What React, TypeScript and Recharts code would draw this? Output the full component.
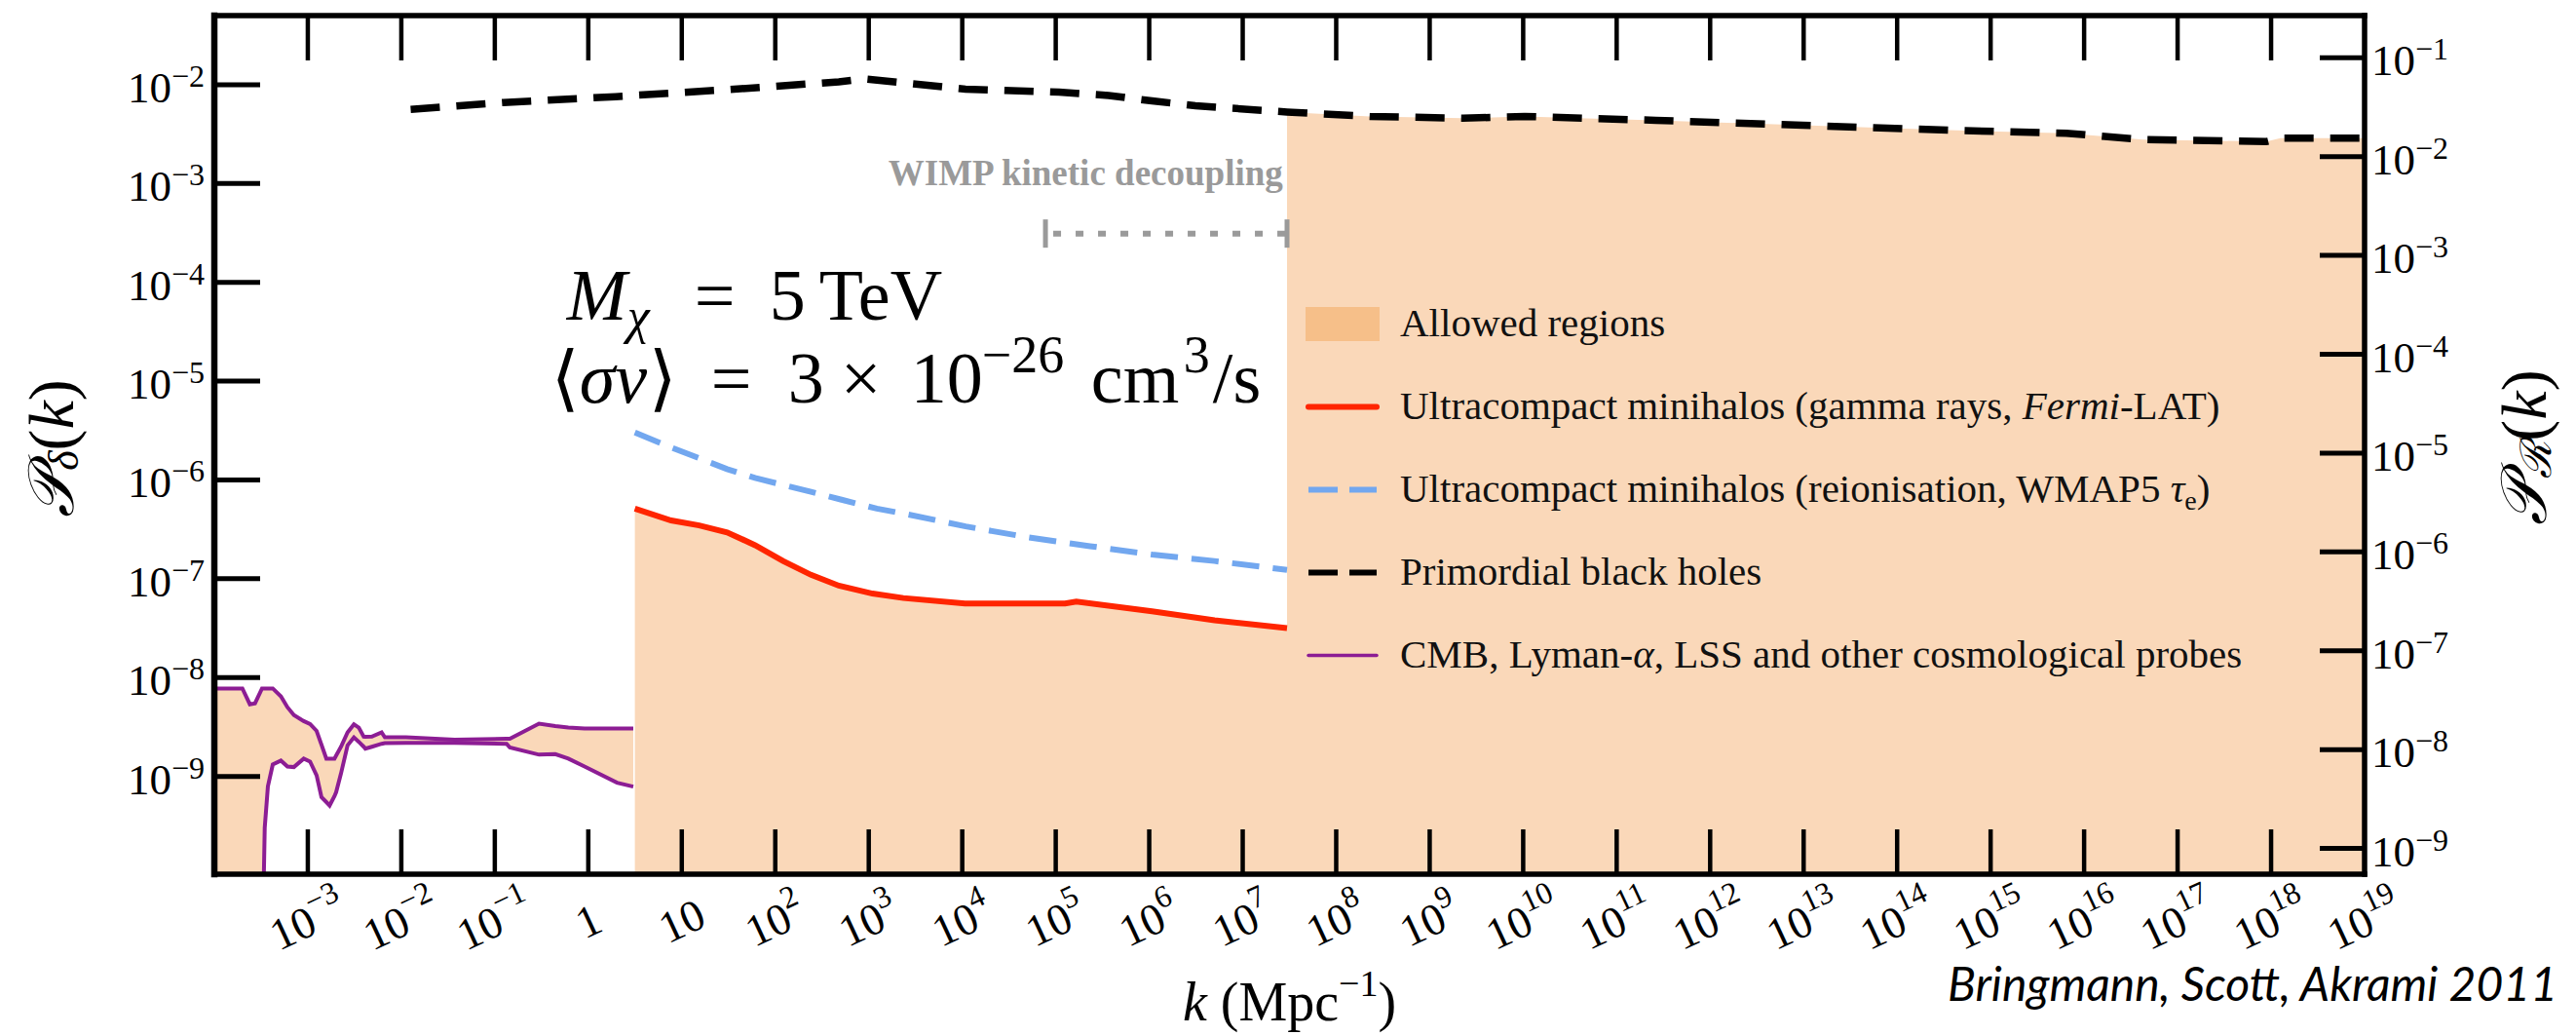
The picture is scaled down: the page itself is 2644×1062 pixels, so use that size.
import React from 'react';
import { ComposedChart, XAxis, YAxis, Line, Area, ReferenceDot, Legend } from 'recharts';

const W = 2644;
const H = 1062;
const SERIF = "'Liberation Serif', 'DejaVu Serif', serif";

// everything below as log10(k / Mpc^-1) and log10(P_delta)
// CMB / Lyman-alpha / LSS band (upper and lower purple curves); -11 = below the plot floor
const cmbLogK = [-4.0, -3.7, -3.62, -3.565, -3.49, -3.461, -3.427, -3.375, -3.288, -3.218, -3.149, -3.044, -2.976, -2.906, -2.854, -2.802, -2.767, -2.715, -2.697, -2.645, -2.575, -2.507, -2.455, -2.402, -2.385, -2.315, -2.211, -2.176, -1.95, -1.429, -0.874, -0.839, -0.527, -0.353, -0.214, -0.04, 0.307, 0.481];
const cmbUpper = [-8.11, -8.11, -8.27, -8.26, -8.11, -8.11, -8.11, -8.11, -8.19, -8.3, -8.38, -8.44, -8.47, -8.54, -8.68, -8.82, -8.82, -8.82, -8.79, -8.7, -8.555, -8.473, -8.506, -8.598, -8.6, -8.598, -8.555, -8.605, -8.605, -8.63, -8.62, -8.62, -8.466, -8.49, -8.506, -8.516, -8.516, -8.516];
const cmbLower = [-11, -11, -11, -11, -11, -9.52, -9.1, -8.88, -8.84, -8.9, -8.906, -8.82, -8.85, -8.99, -9.21, -9.26, -9.295, -9.2, -9.16, -8.97, -8.686, -8.605, -8.65, -8.7, -8.719, -8.7, -8.67, -8.664, -8.66, -8.66, -8.67, -8.708, -8.78, -8.775, -8.82, -8.9, -9.064, -9.103];

// ultracompact minihalos, gamma rays (Fermi-LAT)
const gammaLogK = [0.498, 0.886, 1.186, 1.485, 1.784, 2.083, 2.382, 2.68, 3.04, 3.37, 4.03, 5.1, 5.22, 6.03, 6.7, 7.474];
const gammaLogP = [-6.29, -6.41, -6.46, -6.53, -6.66, -6.82, -6.96, -7.07, -7.15, -7.195, -7.25, -7.25, -7.23, -7.33, -7.42, -7.5];

// ultracompact minihalos, reionisation (WMAP5 tau_e)
const reionLogK = [0.498, 0.886, 1.186, 1.485, 1.784, 2.083, 2.382, 2.709, 3.087, 3.374, 4.037, 4.7, 5.367, 6.03, 6.696, 7.474];
const reionLogP = [-5.52, -5.67, -5.78, -5.89, -5.98, -6.05, -6.12, -6.2, -6.29, -6.34, -6.47, -6.58, -6.67, -6.755, -6.82, -6.91];

// primordial black holes
const pbhLogK = [-1.9, -0.91, 0.29, 1.48, 2.68, 2.95, 4.035, 5.035, 5.566, 6.03, 6.494, 7.474, 8.36, 9.355, 10.016, 10.68, 11.42, 12.99, 14.56, 15.81, 16.63, 17.95, 18.1, 19.0];
const pbhLogP = [-2.25, -2.18, -2.12, -2.05, -1.97, -1.94, -2.044, -2.075, -2.108, -2.164, -2.212, -2.276, -2.32, -2.339, -2.32, -2.34, -2.36, -2.41, -2.46, -2.49, -2.555, -2.575, -2.54, -2.54];

// WIMP kinetic decoupling range
const kdLogK = [4.89, 7.474];
const kdLogP = [-3.506, -3.506];

// axis ticks (exponents)
const bottomTickExp = [-3, -2, -1, 0, 1, 2, 3, 4, 5, 6, 7, 8, 9, 10, 11, 12, 13, 14, 15, 16, 17, 18, 19];
const topTickExp = [-3, -2, -1, 0, 1, 2, 3, 4, 5, 6, 7, 8, 9, 10, 11, 12, 13, 14, 15, 16, 17, 18];
const leftTickExp = [-9, -8, -7, -6, -5, -4, -3, -2];
const rightTickExp = [-9, -8, -7, -6, -5, -4, -3, -2, -1];

const FILL = '#FAD8B9';
const PATCH = '#F6BF89';
const RED = '#FF2500';
const BLUE = '#72A7EF';
const PURPLE = '#8C1D94';
const GREY = '#9A9A9A';

const p10 = (e: number) => Math.pow(10, e);
const FLOOR = p10(-11);

const cmbData = cmbLogK.map((e, i) => ({
  k: p10(e),
  up: p10(cmbUpper[i]),
  lo: p10(cmbLower[i]),
  band: [p10(cmbLower[i]), p10(cmbUpper[i])],
}));
const gammaData = gammaLogK.map((e, i) => ({ k: p10(e), v: p10(gammaLogP[i]), band: [FLOOR, p10(gammaLogP[i])] }));
const reionData = reionLogK.map((e, i) => ({ k: p10(e), v: p10(reionLogP[i]) }));
const pbhData = pbhLogK.map((e, i) => ({ k: p10(e), v: p10(pbhLogP[i]), band: [FLOOR, p10(pbhLogP[i])] }));
const pbhFill = pbhData.filter((_, i) => pbhLogK[i] >= gammaLogK[gammaLogK.length - 1]);
const kdData = kdLogK.map((e, i) => ({ k: p10(e), v: p10(kdLogP[i]) }));

const legendItems = [
  { kind: 'patch', color: PATCH, label: <>Allowed regions</> },
  { kind: 'line', color: RED, width: 6, dash: '', label: <>Ultracompact minihalos (gamma rays, <tspan fontStyle="italic">Fermi</tspan>-LAT)</> },
  { kind: 'line', color: BLUE, width: 6, dash: '30 12', label: <>Ultracompact minihalos (reionisation, WMAP5 <tspan fontStyle="italic">τ</tspan><tspan fontSize={28} dy={8}>e</tspan><tspan dy={-8}>)</tspan></> },
  { kind: 'line', color: '#000', width: 6, dash: '30 12', label: <>Primordial black holes</> },
  { kind: 'line', color: PURPLE, width: 3.5, dash: '', label: <>CMB, Lyman-<tspan fontStyle="italic">α</tspan>, LSS and other cosmological probes</> },
];

const expOf = (v: number) => Math.round(Math.log10(v));

const powText = (e: number, supSize: number, rise: number) => {
  if (e === 0) return '1';
  if (e === 1) return '10';
  return (
    <>
      10<tspan fontSize={supSize} dy={-rise}>{e < 0 ? `\u2212${-e}` : `${e}`}</tspan>
    </>
  );
};

const BottomTick = (props: any) => {
  const { x, y, payload } = props;
  const e = expOf(payload.value);
  return (
    <g>
      {e < 19 && <line x1={x} x2={x} y1={y} y2={y - 46} stroke="#000" strokeWidth={4.5} />}
      <g transform={`translate(${x},${y + 48}) rotate(-25)`}>
        <text textAnchor="middle" dominantBaseline="central" fontFamily={SERIF} fontSize={46} fill="#000">
          {powText(e, 32, 17)}
        </text>
      </g>
    </g>
  );
};

const TopTick = (props: any) => {
  const { x, y } = props;
  return <line x1={x} x2={x} y1={y} y2={y + 46} stroke="#000" strokeWidth={4.5} />;
};

const LeftTick = (props: any) => {
  const { x, y, payload } = props;
  const e = expOf(payload.value);
  return (
    <g>
      <line x1={x} x2={x + 47} y1={y} y2={y} stroke="#000" strokeWidth={5} />
      <text x={x - 10} y={y + 18} textAnchor="end" fontFamily={SERIF} fontSize={45} fill="#000">
        {powText(e, 32, 16)}
      </text>
    </g>
  );
};

const RightTick = (props: any) => {
  const { x, y, payload } = props;
  const e = expOf(payload.value);
  return (
    <g>
      <line x1={x} x2={x - 46} y1={y} y2={y} stroke="#000" strokeWidth={5} />
      <text x={x + 7} y={y + 18} textAnchor="start" fontFamily={SERIF} fontSize={45} fill="#000">
        {powText(e, 32, 16)}
      </text>
    </g>
  );
};

const XLabel = (props: any) => {
  const { viewBox } = props;
  const cx = viewBox.x + viewBox.width / 2;
  return (
    <text x={cx} y={1047} textAnchor="middle" fontFamily={SERIF} fontSize={56} fill="#000">
      <tspan fontStyle="italic">k</tspan> (Mpc<tspan fontSize={38} dy={-25}>{'\u22121'}</tspan><tspan dy={25}>)</tspan>
    </text>
  );
};

const LeftLabel = () => (
  <text transform="translate(52,460) rotate(-90)" textAnchor="middle" dominantBaseline="central" fontFamily={SERIF} fontSize={66} fill="#000">
    <tspan fontStyle="italic">𝒫</tspan><tspan fontStyle="italic" fontSize={44} dy={13}>δ</tspan><tspan dy={-13}>(</tspan><tspan fontStyle="italic">k</tspan>)
  </text>
);

const RightLabel = () => (
  <text transform="translate(2590,459) rotate(-90)" textAnchor="middle" dominantBaseline="central" fontFamily={SERIF} fontSize={66} fill="#000">
    <tspan fontStyle="italic">𝒫</tspan><tspan fontStyle="italic" fontSize={44} dy={13}>ℛ</tspan><tspan dy={-13}>(</tspan><tspan fontStyle="italic">k</tspan>)
  </text>
);

const ModelNote = (props: any) => {
  const { cx, cy } = props;
  const y2 = cy + 85;
  return (
    <text fontFamily={SERIF} fontSize={74} fill="#000">
      <tspan x={cx + 2} y={cy} fontStyle="italic">M</tspan>
      <tspan x={cx + 64} y={cy + 14} fontStyle="italic" fontSize={52}>χ</tspan>
      <tspan x={cx + 133} y={cy}>=</tspan>
      <tspan x={cx + 210} y={cy}>5</tspan>
      <tspan x={cx + 261} y={cy}>TeV</tspan>
      <tspan x={cx - 14} y={y2}>⟨</tspan>
      <tspan x={cx + 15} y={y2} fontStyle="italic">σv</tspan>
      <tspan x={cx + 86} y={y2}>⟩</tspan>
      <tspan x={cx + 150} y={y2}>=</tspan>
      <tspan x={cx + 229} y={y2}>3</tspan>
      <tspan x={cx + 283} y={y2}>×</tspan>
      <tspan x={cx + 355} y={y2}>10</tspan>
      <tspan x={cx + 428} y={y2 - 31} fontSize={54}>{'\u221226'}</tspan>
      <tspan x={cx + 540} y={y2}>cm</tspan>
      <tspan x={cx + 635} y={y2 - 31} fontSize={54}>3</tspan>
      <tspan x={cx + 665} y={y2}>/s</tspan>
    </text>
  );
};

const KdNote = (props: any) => {
  const { cx, cy } = props;
  return (
    <text x={cx} y={cy} textAnchor="end" fontFamily={SERIF} fontSize={37} fontWeight="bold" fill={GREY}>
      WIMP kinetic decoupling
    </text>
  );
};

const KdCap = (props: any) => {
  const { cx, cy, index } = props;
  return <line key={`cap-${index}`} x1={cx} x2={cx} y1={cy - 14.5} y2={cy + 14.5} stroke={GREY} strokeWidth={5} />;
};

const renderLegend = () => (
  <div style={{ position: 'relative', width: 1060, height: 460 }}>
    {legendItems.map((item, i) => (
      <svg key={i} width={1060} height={90} style={{ position: 'absolute', left: 0, top: i * 85, overflow: 'visible' }}>
        {item.kind === 'patch' ? (
          <rect x={0} y={25} width={76} height={35} fill={item.color} />
        ) : (
          <line x1={3} x2={73} y1={42.5} y2={42.5} stroke={item.color} strokeWidth={item.width} strokeDasharray={item.dash} strokeLinecap={item.dash ? 'butt' : 'round'} />
        )}
        <text x={97} y={55} fontFamily={SERIF} fontSize={41} fill="#111">
          {item.label}
        </text>
      </svg>
    ))}
  </div>
);

export default function App() {
  const axisLine = { stroke: '#000', strokeWidth: 5.5, strokeLinecap: 'square' as const };
  return (
    <div style={{ position: 'absolute', left: 0, top: 0, width: W, height: H, background: '#fff' }}>
      <ComposedChart width={W} height={H} margin={{ top: 15, right: 216, bottom: 164, left: 219 }}>
        <XAxis
          xAxisId="b"
          dataKey="k"
          type="number"
          scale="log"
          domain={[p10(-4), p10(19)]}
          allowDataOverflow
          ticks={bottomTickExp.map(p10)}
          interval={0}
          height={1}
          tickSize={0}
          tickMargin={0}
          tickLine={false}
          axisLine={axisLine}
          tick={<BottomTick />}
          label={<XLabel />}
        />
        <XAxis
          xAxisId="t"
          orientation="top"
          dataKey="k"
          type="number"
          scale="log"
          domain={[p10(-4), p10(19)]}
          allowDataOverflow
          ticks={topTickExp.map(p10)}
          interval={0}
          height={1}
          tickSize={0}
          tickMargin={0}
          tickLine={false}
          axisLine={axisLine}
          tick={<TopTick />}
        />
        <YAxis
          yAxisId="l"
          type="number"
          scale="log"
          domain={[p10(-9.99), p10(-1.3)]}
          allowDataOverflow
          ticks={leftTickExp.map(p10)}
          interval={0}
          width={1}
          tickSize={0}
          tickMargin={0}
          tickLine={false}
          axisLine={{ ...axisLine, strokeWidth: 6.5 }}
          tick={<LeftTick />}
          label={<LeftLabel />}
        />
        <YAxis
          yAxisId="r"
          orientation="right"
          type="number"
          scale="log"
          domain={[p10(-9.261), p10(-0.573)]}
          allowDataOverflow
          ticks={rightTickExp.map(p10)}
          interval={0}
          width={1}
          tickSize={0}
          tickMargin={0}
          tickLine={false}
          axisLine={axisLine}
          tick={<RightTick />}
          label={<RightLabel />}
        />

        <Area xAxisId="b" yAxisId="l" data={cmbData} dataKey="band" type="linear" fill={FILL} fillOpacity={1} stroke="none" isAnimationActive={false} />
        <Area xAxisId="b" yAxisId="l" data={gammaData} dataKey="band" type="linear" fill={FILL} fillOpacity={1} stroke="none" isAnimationActive={false} />
        <Area xAxisId="b" yAxisId="l" data={pbhFill} dataKey="band" type="linear" fill={FILL} fillOpacity={1} stroke="none" isAnimationActive={false} />

        <Line xAxisId="b" yAxisId="l" data={cmbData} dataKey="up" type="linear" stroke={PURPLE} strokeWidth={4} dot={false} activeDot={false} isAnimationActive={false} />
        <Line xAxisId="b" yAxisId="l" data={cmbData} dataKey="lo" type="linear" stroke={PURPLE} strokeWidth={4} dot={false} activeDot={false} isAnimationActive={false} />
        <Line xAxisId="b" yAxisId="l" data={reionData} dataKey="v" type="linear" stroke={BLUE} strokeWidth={6} strokeDasharray="28 14" dot={false} activeDot={false} isAnimationActive={false} />
        <Line xAxisId="b" yAxisId="l" data={gammaData} dataKey="v" type="linear" stroke={RED} strokeWidth={6} dot={false} activeDot={false} isAnimationActive={false} />
        <Line xAxisId="b" yAxisId="l" data={pbhData} dataKey="v" type="linear" stroke="#000" strokeWidth={7.5} strokeDasharray="30 17" dot={false} activeDot={false} isAnimationActive={false} />
        <Line xAxisId="b" yAxisId="l" data={kdData} dataKey="v" type="linear" stroke={GREY} strokeWidth={6} strokeDasharray="0 8 8 7" dot={<KdCap />} activeDot={false} isAnimationActive={false} />

        <ReferenceDot xAxisId="b" yAxisId="l" x={p10(-0.25)} y={p10(-4.377)} r={0} shape={<ModelNote />} />
        <ReferenceDot xAxisId="b" yAxisId="l" x={p10(7.43)} y={p10(-3.013)} r={0} shape={<KdNote />} />

        <Legend layout="vertical" align="center" verticalAlign="middle" content={renderLegend} wrapperStyle={{ left: 1340, top: 290, width: 1060, height: 460 }} />
      </ComposedChart>
      <svg width={W} height={H} style={{ position: 'absolute', left: 0, top: 0, pointerEvents: 'none' }}>
        <text x={1999} y={1027} fontFamily="Lato, 'Open Sans', sans-serif" fontStyle="italic" fontSize={48} textLength={626} lengthAdjust="spacingAndGlyphs" fill="#000">
          Bringmann, Scott, Akrami 2011
        </text>
      </svg>
    </div>
  );
}
